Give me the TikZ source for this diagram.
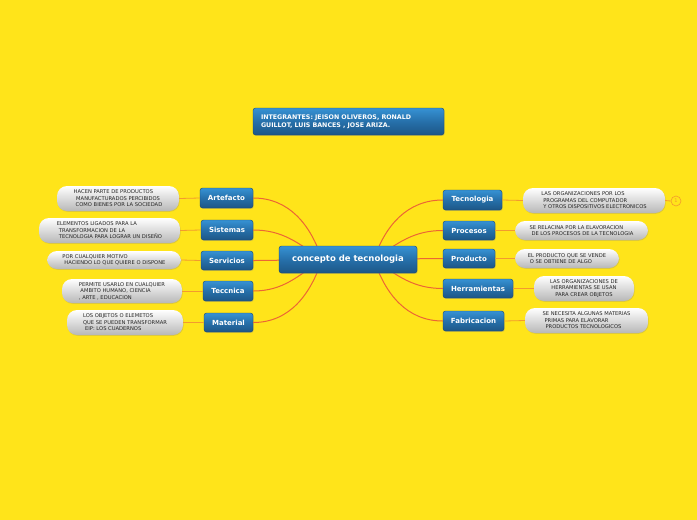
\documentclass[tikz,border=0pt]{standalone}
\usepackage{fontspec}
\setmainfont{DejaVu Sans}
\usetikzlibrary{shadows}
\definecolor{bg}{HTML}{FFE41A}
\definecolor{blueA}{HTML}{3692D4}
\definecolor{blueM}{HTML}{2670AA}
\definecolor{blueB}{HTML}{1D5686}
\definecolor{blueD}{HTML}{17476F}
\definecolor{conncol}{HTML}{EC6634}
\definecolor{linkcol}{HTML}{F39A2E}
\tikzset{
  topic/.style={rounded corners=2.5pt, draw=blueD, line width=0.4pt,
    top color=blueA, bottom color=blueB, middle color=blueM,
    text=white, font=\bfseries\fontsize{7}{8}\selectfont, inner sep=0pt,
    drop shadow={opacity=0.35, shadow xshift=0.7pt, shadow yshift=-0.9pt}},
  pill/.style={rounded corners=10pt, top color=white, bottom color=black!28,
    draw=none, font=\fontsize{5.2}{6.5}\selectfont, text=black!85, inner sep=0pt,
    align=left,
    drop shadow={opacity=0.25, shadow xshift=0.6pt, shadow yshift=-0.8pt}},
  conn/.style={draw=conncol, line width=1pt},
  link/.style={draw=linkcol, line width=0.8pt},
}
\begin{document}
\begin{tikzpicture}[x=1pt,y=-1pt]
\fill[bg] (0,0) rectangle (697,520);
\useasboundingbox (0,0) rectangle (697,520);

% header
\node[topic, minimum width=191pt, minimum height=27pt, font=\bfseries\fontsize{6.3}{8}\selectfont, align=left, text width=175pt] (h) at (348.5,121.5) {INTEGRANTES: JEISON OLIVEROS, RONALD\\GUILLOT, LUIS BANCES , JOSE ARIZA.};

% left topics
\node[topic, minimum width=53pt, minimum height=20pt] (art) at (226.5,198) {Artefacto};
\node[topic, minimum width=52pt, minimum height=20pt] (sis) at (227,230) {Sistemas};
\node[topic, minimum width=52pt, minimum height=19pt] (ser) at (227,260.5) {Servicios};
\node[topic, minimum width=50pt, minimum height=20pt] (tec) at (228,291) {Teccnica};
\node[topic, minimum width=49pt, minimum height=19pt] (mat) at (228.5,322.5) {Material};

% right topics
\node[topic, minimum width=59pt, minimum height=20pt] (tcg) at (472.5,200) {Tecnologia};
\node[topic, minimum width=52pt, minimum height=19pt] (pro) at (469,230.5) {Procesos};
\node[topic, minimum width=52pt, minimum height=19pt] (prd) at (469,258.5) {Producto};
\node[topic, minimum width=70pt, minimum height=19pt] (her) at (478,288.5) {Herramientas};
\node[topic, minimum width=61pt, minimum height=20pt] (fab) at (473.5,321) {Fabricacion};

% left descriptions
\node[pill, minimum width=122pt, minimum height=25pt] (dart) at (118,198.5) {HACEN PARTE DE PRODUCTOS\\\hspace{2.5pt}MANUFACTURADOS PERCIBIDOS\\\hspace{2pt}COMO BIENES POR LA SOCIEDAD};
\node[pill, minimum width=141pt, minimum height=25pt] (dsis) at (109.5,230.5) {ELEMENTOS LIGADOS PARA LA\\\hspace{2pt}TRANSFORMACION DE LA\\\hspace{2pt}TECNOLOGIA PARA LOGRAR UN DISEÑO};
\node[pill, minimum width=134pt, minimum height=18pt] (dser) at (114,260) {POR CUALQUIER MOTIVO\\\hspace{2pt}HACIENDO LO QUE QUIERE O DISPONE};
\node[pill, minimum width=120pt, minimum height=24pt] (dtec) at (122,291) {PERMITE USARLO EN CUALQUIER\\\hspace{1.5pt}AMBITO HUMANO, CIENCIA\\, ARTE , EDUCACION};
\node[pill, minimum width=116pt, minimum height=25pt] (dmat) at (125,322.5) {LOS OBJETOS O ELEMETOS\\QUE SE PUEDEN TRANSFORMAR\\\hspace{2pt}EIP: LOS CUADERNOS};

% right descriptions
\node[pill, minimum width=142pt, minimum height=25pt] (dtcg) at (594,200.5) {LAS ORGANIZACIONES POR LOS\\\hspace{2pt}PROGRAMAS DEL COMPUTADOR\\\hspace{2pt}Y OTROS DISPOSITIVOS ELECTRONICOS};
\node[pill, minimum width=133pt, minimum height=19pt] (dpro) at (581.5,230.5) {SE RELACINA POR LA ELAVORACION\\\hspace{2pt}DE LOS PROCESOS DE LA TECNOLOGIA};
\node[pill, minimum width=104pt, minimum height=19pt] (dprd) at (567,258.5) {EL PRODUCTO QUE SE VENDE\\\hspace{2pt}O SE OBTIENE DE ALGO};
\node[pill, minimum width=100pt, minimum height=25pt, align=center] (dher) at (584,288.5) {LAS ORGANIZACIONES DE\\HERRAMIENTAS SE USAN\\PARA CREAR OBJETOS};
\node[pill, minimum width=123pt, minimum height=25pt] (dfab) at (586.5,320.5) {SE NECESITA ALGUNAS MATERIAS\\\hspace{2pt}PRIMAS PARA ELAVORAR\\\hspace{3pt}PRODUCTOS TECNOLOGICOS};

\node[circle, draw=linkcol, line width=0.6pt, minimum size=10pt, inner sep=0pt, text=linkcol, font=\fontsize{5}{6}\selectfont] (one) at (676,201) {1};

% links
\draw[link] (art.west) -- (dart.east);
\draw[link] (sis.west) -- (dsis.east);
\draw[link] (ser.west) -- (dser.east);
\draw[link] (tec.west) -- (dtec.east);
\draw[link] (mat.west) -- (dmat.east);
\draw[link] (tcg.east) -- (dtcg.west);
\draw[link] (pro.east) -- (dpro.west);
\draw[link] (prd.east) -- (dprd.west);
\draw[link] (her.east) -- (dher.west);
\draw[link] (fab.east) -- (dfab.west);
\draw[link] (dtcg.east) -- (one.west);

% center connectors
\coordinate (cc) at (348,259.5);
\coordinate (ls) at (322,259.5);
\coordinate (rs) at (374,259.5);
\draw[conn] (ls) to[out=108,in=0] (art.east);
\draw[conn] (ls) to[out=145,in=0] (sis.east);
\draw[conn] (ls) to[out=180,in=0] (ser.east);
\draw[conn] (ls) to[out=215,in=0] (tec.east);
\draw[conn] (ls) to[out=252,in=0] (mat.east);
\draw[conn] (rs) to[out=72,in=180] (tcg.west);
\draw[conn] (rs) to[out=35,in=180] (pro.west);
\draw[conn] (rs) to[out=0,in=180] (prd.west);
\draw[conn] (rs) to[out=-35,in=180] (her.west);
\draw[conn] (rs) to[out=-72,in=180] (fab.west);

% central node on top
\node[topic, minimum width=138pt, minimum height=27pt, font=\bfseries\fontsize{8.5}{10}\selectfont] (c) at (cc) {concepto de tecnologia};
\end{tikzpicture}
\end{document}
